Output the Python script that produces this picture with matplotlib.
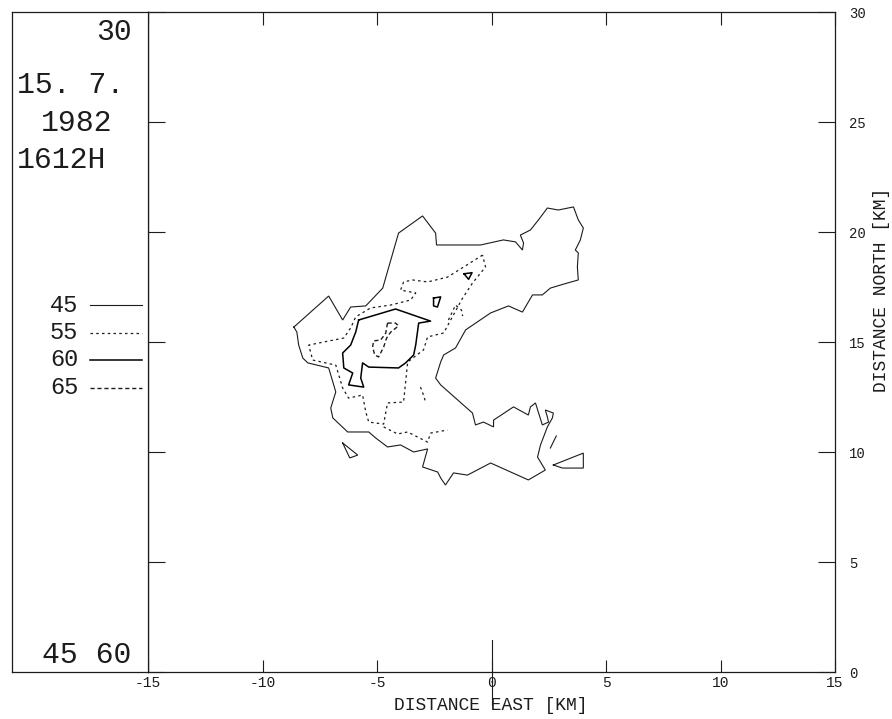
import matplotlib.pyplot as plt

# radar reflectivity contours, 15.7.1982 1612H
plt.rcParams['font.family'] = ['Liberation Mono', 'DejaVu Sans Mono']

ink = '#1c1c1c'

# 45 dBZ outline (km east, km north)
c45_x = [-8.63, -7.11, -6.50, -6.15, -5.49, -4.75, -4.06, -3.01, -2.44, -2.40,
         -0.48, 0.52, 1.05, 1.35, 1.40, 1.26, 1.70, 2.05, 2.44, 2.92,
         3.58, 3.79, 4.01, 3.88, 3.66, 3.79, 3.75, 3.79, 3.31, 2.57,
         2.22, 1.79, 1.35, 0.74, -0.04, -1.13, -1.57, -2.09, -2.22, -2.44,
         -2.22, -0.83, -0.70, -0.35, 0.09, 0.09, 0.96, 1.61, 1.70, 1.92,
         2.22, 2.49, 2.44, 2.35, 2.70, 2.66, 2.44, 2.14, 2.01, 2.35,
         1.61, -0.04, -1.05, -1.66, -2.01, -2.22, -2.35, -3.01, -2.79, -3.40,
         -3.97, -4.54, -5.06, -5.36, -6.28, -6.93, -7.02, -6.80, -7.11, -8.02,
         -8.24, -8.42, -8.50]
c45_y = [15.68, 17.09, 16.00, 16.59, 16.64, 17.45, 19.95, 20.73, 19.95, 19.41,
         19.41, 19.64, 19.55, 19.18, 19.50, 19.86, 20.09, 20.55, 21.09, 21.00,
         21.14, 20.55, 20.18, 19.64, 19.18, 19.05, 18.41, 17.82, 17.68, 17.45,
         17.14, 17.14, 16.36, 16.64, 16.32, 15.55, 14.73, 14.41, 14.09, 13.36,
         13.05, 11.77, 11.23, 11.36, 11.14, 11.45, 12.05, 11.68, 12.05, 12.23,
         11.23, 11.36, 11.59, 11.91, 11.77, 11.55, 11.14, 10.32, 9.77, 9.18,
         8.73, 9.50, 8.95, 9.05, 8.50, 8.82, 9.09, 9.32, 10.14, 10.00,
         10.32, 10.23, 10.64, 10.91, 10.91, 11.55, 12.00, 12.73, 13.82, 14.05,
         14.27, 14.86, 15.45]

# small 45 cells
c45b_x = [-6.50, -5.84, -6.19]
c45b_y = [10.41, 9.86, 9.73]
c45c_x = [2.70, 4.01, 4.01, 3.10]
c45c_y = [9.41, 9.95, 9.27, 9.27]
c45d_x = [2.83, 2.57]
c45d_y = [10.73, 10.18]

# 55 dBZ
c55_x = [-0.39, -1.92, -2.79, -3.45, -3.84, -3.97, -3.31, -3.53, -4.40, -5.28,
         -5.93, -6.15, -6.45, -7.33, -7.98, -7.81, -6.80, -6.50, -6.24, -5.63,
         -5.49, -5.36, -4.71, -4.54, -3.84, -3.66, -2.97, -2.79, -2.09, -1.26,
         -0.83, -0.26]
c55_y = [18.95, 17.95, 17.73, 17.82, 17.73, 17.36, 17.23, 16.91, 16.68, 16.55,
         16.14, 15.64, 15.18, 15.00, 14.86, 14.18, 13.95, 12.91, 12.45, 12.59,
         11.82, 11.36, 11.27, 12.23, 12.27, 14.09, 14.64, 15.23, 15.41, 17.00,
         17.68, 18.41]
c55b_x = [-4.71, -4.10, -3.66, -2.79, -2.66, -1.92]
c55b_y = [11.14, 10.82, 10.91, 10.45, 10.86, 11.00]
c55c_x = [-3.10, -2.97, -2.88]
c55c_y = [12.95, 12.59, 12.27]
c55d_x = [-1.88, -1.57, -1.31, -1.26]
c55d_y = [16.00, 16.68, 16.45, 16.18]

# 60 dBZ
c60_x = [-5.80, -4.19, -2.66, -3.18, -3.31, -3.40, -3.75, -4.06, -5.36, -5.63,
         -5.71, -5.58, -6.24, -6.06, -6.45, -6.50, -6.15, -5.93]
c60_y = [16.00, 16.50, 15.95, 15.86, 14.86, 14.41, 14.05, 13.82, 13.86, 14.05,
         13.36, 12.95, 13.05, 13.59, 13.82, 14.50, 14.86, 15.45]
c60b_x = [-2.53, -2.22, -2.36, -2.53]
c60b_y = [17.00, 17.05, 16.59, 16.64]
c60c_x = [-1.20, -0.85, -1.00]
c60c_y = [18.10, 18.15, 17.85]

# 65 dBZ
c65_x = [-4.54, -4.19, -4.06, -4.40, -4.58, -4.71, -4.93, -5.10, -5.19, -5.15,
         -4.84, -4.62]
c65_y = [15.86, 15.86, 15.73, 15.45, 15.18, 14.77, 14.32, 14.41, 14.77, 15.05,
         15.09, 15.40]

levels = ['45', '55', '60', '65']
x_ticks = [-15, -10, -5, 0, 5, 10, 15]
y_ticks = [0, 5, 10, 15, 20, 25, 30]


def closed(x, y):
    return x + [x[0]], y + [y[0]]


st45 = dict(color=ink, lw=0.8, solid_joinstyle='miter')
st55 = dict(color=ink, lw=0.9, dashes=(2.0, 2.6))
st60 = dict(color='#000000', lw=1.1)
st65 = dict(color=ink, lw=1.0, dashes=(3.0, 2.0))
styles = [st45, st55, st60, st65]

fig = plt.figure(figsize=(8.92, 7.19), dpi=100)
ax = fig.add_axes([148/892, 47/719, 687/892, 660/719])

ax.plot(*closed(c45_x, c45_y), **st45)
ax.plot(*closed(c45b_x, c45b_y), **st45)
ax.plot(*closed(c45c_x, c45c_y), **st45)
ax.plot(c45d_x, c45d_y, **st45)
ax.plot(*closed(c55_x, c55_y), **st55)
ax.plot(c55b_x, c55b_y, **st55)
ax.plot(c55c_x, c55c_y, **st55)
ax.plot(c55d_x, c55d_y, **st55)
ax.plot(*closed(c60_x, c60_y), **st60)
ax.plot(*closed(c60b_x, c60b_y), **st60)
ax.plot(*closed(c60c_x, c60c_y), **st60)
ax.plot(*closed(c65_x, c65_y), **st65)

# long marker through x = 0
ax.plot([0, 0], [1.45, -1.5], color=ink, lw=0.8, clip_on=False)

ax.set_xlim(-15, 15)
ax.set_ylim(0, 30)
ax.set_xticks(x_ticks)
ax.set_yticks(y_ticks)
ax.set_xticklabels([str(v) for v in x_ticks])
ax.set_yticklabels([str(v) for v in y_ticks])
ax.tick_params(axis='x', direction='in', top=True, bottom=True, length=9,
               width=0.8, color=ink, labelsize=10.5, labelcolor=ink, pad=3)
ax.tick_params(axis='y', direction='in', left=True, right=True, length=12,
               width=0.8, color=ink, labelleft=False, labelright=True,
               labelsize=10, labelcolor=ink, pad=10)
for s in ax.spines.values():
    s.set_linewidth(0.9)
    s.set_color(ink)

fig.text(491/892, 1 - 706/719, 'DISTANCE EAST [KM]', ha='center', va='center',
         fontsize=13, color=ink)
fig.text(882/892, 1 - 290/719, 'DISTANCE NORTH [KM]', ha='center', va='center',
         rotation=90, fontsize=13, color=ink)

# left info panel
side = fig.add_axes([12/892, 47/719, 136/892, 660/719])
side.set_xlim(0, 136)
side.set_ylim(660, 0)
side.set_xticks([])
side.set_yticks([])
for s in side.spines.values():
    s.set_linewidth(0.9)
    s.set_color(ink)

big = dict(fontsize=21.5, color=ink, va='center')
side.text(120, 20, '30', ha='right', **big)
side.text(5, 73, '15. 7.', ha='left', **big)
side.text(29, 111, '1982', ha='left', **big)
side.text(5, 148, '1612H', ha='left', **big)
side.text(30, 643, '45 60', ha='left', **big)

for i, (lab, st) in enumerate(zip(levels, styles)):
    yy = 293 + 27.5 * i
    side.text(66, yy, lab, ha='right', va='center', fontsize=17, color=ink)
    side.plot([78, 130], [yy, yy], **st)

fig.savefig('out.png', dpi=100, facecolor='white')
